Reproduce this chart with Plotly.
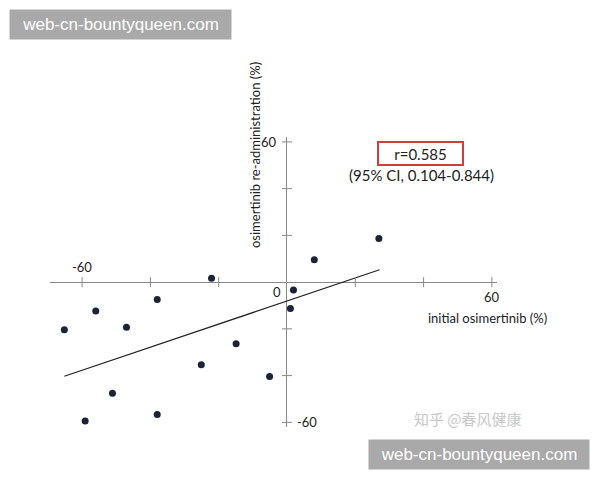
import plotly.graph_objects as go

# values
initial = [-22.1, 8.0, 1.9, 26.9, -38.0, -56.0, -65.2, -47.0, 1.0, -14.9, -25.1, -5.1, -51.1, -59.1, -38.0]
readmin = [1.7, 9.6, -3.4, 18.7, -7.4, -12.4, -20.4, -19.3, -11.3, -26.4, -35.4, -40.4, -47.6, -59.4, -56.6]
fit_x = [-65.2, 27.1]
fit_y = [-40.3, 5.3]
tick_vals = [-60, -40, -20, 20, 40, 60]

W, H = 600, 480
OFF = 8  # page body margin
L, R, T, B = 50 - OFF, 103 + OFF, 137 - OFF, 53 + OFF
PW, PH = W - L - R, H - T - B


def px(x):
    return (x - OFF - L) / PW


def py(y):
    return (H - B - (y - OFF)) / PH


fig = go.Figure()
fig.add_trace(go.Scatter(x=fit_x, y=fit_y, mode="lines",
                         line=dict(color="#222", width=1.2), hoverinfo="skip"))
fig.add_trace(go.Scatter(x=initial, y=readmin, mode="markers",
                         marker=dict(color="#1e2236", size=7)))

# cross tick marks on both axes
for t in tick_vals:
    fig.add_shape(type="line", xref="x", yref="y", x0=t, x1=t,
                  ysizemode="pixel", yanchor=0, y0=-5, y1=5,
                  line=dict(color="#888", width=1))
    fig.add_shape(type="line", xref="x", yref="y", y0=t, y1=t,
                  xsizemode="pixel", xanchor=0, x0=-5, x1=5,
                  line=dict(color="#888", width=1))

lab = dict(family="Lato, Open Sans, sans-serif", size=13, color="#222")
fig.add_annotation(x=-60, y=0, text="-60", showarrow=False, yshift=15, font=lab)
fig.add_annotation(x=60, y=0, text="60", showarrow=False, yshift=-15, font=lab)
fig.add_annotation(x=0, y=0, text="0", showarrow=False, xshift=-10, yshift=-10, font=lab)
fig.add_annotation(x=0, y=60, text="60", showarrow=False, xanchor="right", xshift=-8, font=lab)
fig.add_annotation(x=0, y=-60, text="-60", showarrow=False, xanchor="left", xshift=8, font=lab)


def note(x, y, text, **kw):
    fig.add_annotation(xref="paper", yref="paper", x=px(x), y=py(y), text=text,
                       showarrow=False, xanchor="center", yanchor="middle", **kw)


ttl = dict(family="Lato, Open Sans, sans-serif", size=13, color="#222")
note(487, 318, "initial osimertinib (%)", font=ttl)
note(255, 155, "osimertinib re-administration (%)", textangle=-90, font=ttl)

big = dict(family="Lato, Open Sans, sans-serif", size=15, color="#222")
note(420.5, 153.5, "r=0.585", font=big, bordercolor="#d23c3c", borderwidth=2,
     borderpad=1, width=81, height=19)
note(421, 175, "(95% CI, 0.104-0.844)", font=big)

# watermarks
wm = dict(family="Liberation Sans, Arial, sans-serif", size=17, color="white")
note(120.5, 24.5, "web-cn-bountyqueen.com", font=wm, bgcolor="#a9a9a9",
     width=217, height=25, borderpad=2)
note(479, 454.5, "web-cn-bountyqueen.com", font=wm, bgcolor="#a9a9a9",
     width=216, height=25, borderpad=2)
note(468, 418, "知乎 @春风健康",
     font=dict(family="Noto Sans CJK SC", size=15, color="#c8c8c8"))

fig.update_xaxes(range=[-69.4, 61.5], showgrid=False, showticklabels=False,
                 zeroline=True, zerolinecolor="#888", zerolinewidth=1, showline=False)
fig.update_yaxes(range=[-62, 62.1], showgrid=False, showticklabels=False,
                 zeroline=True, zerolinecolor="#888", zerolinewidth=1, showline=False)
fig.update_layout(width=W, height=H, margin=dict(l=L, r=R, t=T, b=B),
                  plot_bgcolor="white", paper_bgcolor="white", showlegend=False)

fig.write_html("out.html")
